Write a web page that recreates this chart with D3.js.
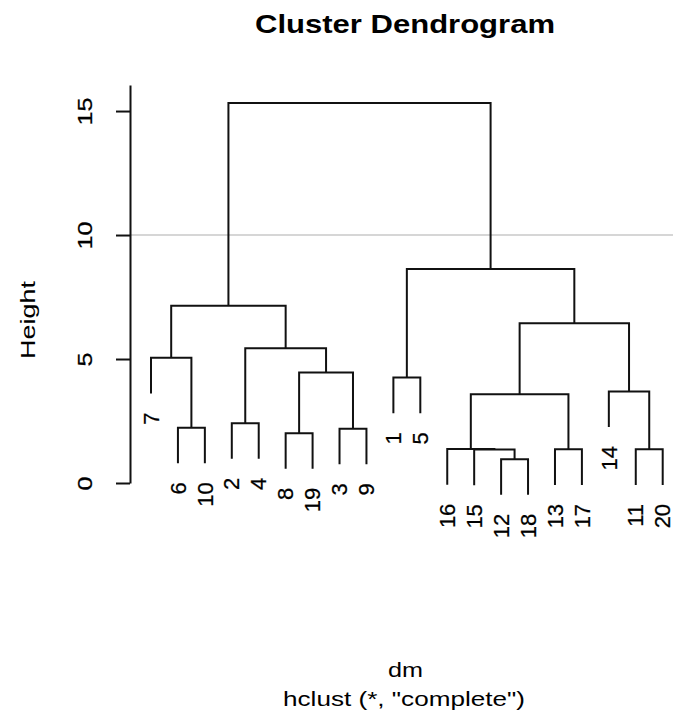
<!DOCTYPE html>
<html>
<head>
<meta charset="utf-8">
<script src="https://cdn.jsdelivr.net/npm/d3@7"></script>
<style>
  html, body { margin: 0; padding: 0; background: #fff; }
  svg { display: block; }
  text { font-family: "Liberation Sans", Arial, sans-serif; fill: #000; }
  text.num { stroke: #000; stroke-width: 0.25px; }
</style>
</head>
<body>
<svg id="chart" width="673" height="715"></svg>
<script>
// Observations in the order the dendrogram lays them out
const leafOrder = ["7", "6", "10", "2", "4", "8", "19", "3", "9", "1", "5",
                   "16", "15", "12", "18", "13", "17", "14", "11", "20"];

// hclust merge table: negative = observation number, positive = earlier merge step
const mergeLeft   = [-12, -15, -13, -11, -16, -8, -3, -6, -2, 5, -14, -1, 6, -7, 9, 10, 14, 12, 17];
const mergeRight  = [-18,   1, -17, -20,   2, -19, -9, -10, -4, 3, 4, -5, 7, 8, 13, 11, 15, 16, 18];
const mergeHeight = [0.96, 1.35, 1.36, 1.36, 1.37, 2.01, 2.19, 2.23, 2.41, 3.58, 3.69,
                     4.25, 4.46, 5.05, 5.43, 6.44, 7.15, 8.63, 15.32];

const yTicks = [0, 5, 10, 15];
const cutHeight = 10;

const titleText = "Cluster Dendrogram";
const xLabel = "dm";
const subLabel = "hclust (*, \"complete\")";
const yLabel = "Height";

const svg = d3.select("#chart");

const x = d3.scalePoint().domain(leafOrder).range([151, 662.7]);
const y = d3.scaleLinear().domain([0, 16.05]).range([483, 85]);

// leaves hang below their merge by a tenth of the height range
const hang = 0.1 * (d3.max(mergeHeight) - d3.min(mergeHeight));

// grey reference line at the cut height
svg.append("line")
  .attr("x1", 130).attr("x2", 673)
  .attr("y1", y(cutHeight)).attr("y2", y(cutHeight))
  .attr("stroke", "#c8c8c8").attr("stroke-width", 1.6);

// horizontal position of every merge node, and the bottom of each branch
const nodeX = [];
function childX(c) { return c < 0 ? x(String(-c)) : nodeX[c - 1]; }
mergeHeight.forEach((h, i) => {
  nodeX[i] = (childX(mergeLeft[i]) + childX(mergeRight[i])) / 2;
});
function childBottom(c, parentH) { return c < 0 ? parentH - hang : mergeHeight[c - 1]; }

const g = svg.append("g");
g.selectAll("path.branch")
  .data(mergeHeight.map((h, i) => ({ l: mergeLeft[i], r: mergeRight[i], h })))
  .join("path")
  .attr("class", "branch")
  .attr("fill", "none")
  .attr("stroke", "#111")
  .attr("stroke-width", 2)
  .attr("stroke-linejoin", "miter")
  .attr("d", d => {
    const xl = childX(d.l), xr = childX(d.r);
    return `M${xl},${y(childBottom(d.l, d.h))}V${y(d.h)}H${xr}V${y(childBottom(d.r, d.h))}`;
  });

// leaf labels, rotated, hanging below each leaf
const leafBottom = {};
mergeHeight.forEach((h, i) => {
  [mergeLeft[i], mergeRight[i]].forEach(c => { if (c < 0) leafBottom[String(-c)] = h - hang; });
});
svg.selectAll("text.leaf")
  .data(leafOrder)
  .join("text")
  .attr("class", "leaf num")
  .attr("transform", d => `translate(${x(d)},${y(leafBottom[d]) + 19}) rotate(-90)`)
  .attr("text-anchor", "end")
  .attr("dy", "0.35em")
  .style("font-size", "22px")
  .text(d => d);

// height axis
const axis = d3.axisLeft(y).tickValues(yTicks).tickSize(14).tickSizeOuter(0).tickFormat(d3.format("d"));
const ag = svg.append("g").attr("transform", "translate(130,0)").call(axis);
ag.select(".domain").attr("stroke", "#111").attr("stroke-width", 2);
ag.selectAll(".tick line").attr("stroke", "#111").attr("stroke-width", 2);
ag.selectAll(".tick text").remove();
ag.selectAll(".tick").append("text")
  .attr("class", "num")
  .attr("transform", "translate(-38,0) rotate(-90) scale(1.2,1)")
  .attr("text-anchor", "middle")
  .attr("fill", "#000")
  .style("font-size", "21px")
  .style("font-family", "'Liberation Sans', Arial, sans-serif")
  .text(d => d);

// titles
svg.append("text")
  .attr("x", 405).attr("y", 33)
  .attr("text-anchor", "middle")
  .attr("textLength", 300).attr("lengthAdjust", "spacingAndGlyphs")
  .style("font-size", "25px").style("font-weight", "bold")
  .text(titleText);

svg.append("text")
  .attr("x", 405.5).attr("y", 677)
  .attr("text-anchor", "middle")
  .attr("textLength", 35).attr("lengthAdjust", "spacingAndGlyphs")
  .style("font-size", "21px")
  .text(xLabel);

svg.append("text")
  .attr("x", 404).attr("y", 706)
  .attr("text-anchor", "middle")
  .attr("textLength", 242).attr("lengthAdjust", "spacingAndGlyphs")
  .style("font-size", "21px")
  .text(subLabel);

svg.append("text")
  .attr("transform", "translate(35,320) rotate(-90)")
  .attr("text-anchor", "middle")
  .attr("textLength", 78).attr("lengthAdjust", "spacingAndGlyphs")
  .style("font-size", "21px")
  .text(yLabel);
</script>
</body>
</html>
